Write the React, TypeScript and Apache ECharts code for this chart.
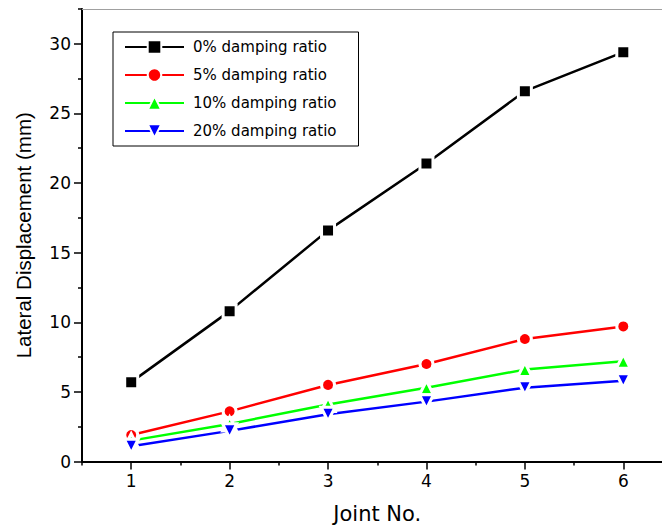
import React, { useEffect, useRef } from "react";
import * as echarts from "echarts";

const joints = [1, 2, 3, 4, 5, 6];
const damping0 = [5.7, 10.8, 16.6, 21.4, 26.6, 29.4];
const damping5 = [1.9, 3.6, 5.5, 7.0, 8.8, 9.7];
const damping10 = [1.5, 2.7, 4.1, 5.3, 6.6, 7.2];
const damping20 = [1.1, 2.2, 3.4, 4.3, 5.3, 5.8];

const seriesNames = ["0% damping ratio", "5% damping ratio", "10% damping ratio", "20% damping ratio"];

const xTicks = [1, 2, 3, 4, 5, 6];
const xMinorTicks = [0.5, 1.5, 2.5, 3.5, 4.5, 5.5, 6.5];
const yTicks = [0, 5, 10, 15, 20, 25, 30];
const yMinorTicks = [2.5, 7.5, 12.5, 17.5, 22.5, 27.5, 32.5];

const X_MIN = 0.5;
const X_MAX = 6.5;
const Y_MIN = 0;
const Y_MAX = 32.5;

const tickFont = "DejaVu Sans";

export default function App() {
  const ref = useRef<HTMLDivElement>(null);

  useEffect(() => {
    if (!ref.current) return;
    const chart = echarts.init(ref.current, null, { renderer: "svg" });

    const mk = (vals: number[]) => joints.map((j, i) => [j, vals[i]]);
    const base = (name: string, vals: number[], color: string, symbol: string, size: number, rotate = 0) => ({
      name,
      type: "line",
      data: mk(vals),
      xAxisIndex: 0,
      yAxisIndex: 0,
      symbol,
      symbolSize: size,
      symbolRotate: rotate,
      showAllSymbol: true,
      lineStyle: { color, width: 2.5 },
      itemStyle: { color, borderColor: "#ffffff", borderWidth: 3 },
      z: 3,
    });

    const option: any = {
      animation: false,
      backgroundColor: "#ffffff",
      grid: { left: 82, top: 9, width: 590.5, height: 452.5, containLabel: false, outerBoundsMode: "none" },
      legend: {
        left: 113,
        top: 32,
        orient: "vertical",
        padding: [6, 22, 6, 11],
        itemWidth: 59,
        itemHeight: 17,
        itemGap: 10,
        borderColor: "#000",
        borderWidth: 1,
        borderRadius: 0,
        backgroundColor: "#ffffff",
        textStyle: {
          fontFamily: tickFont,
          fontSize: 15,
          color: "#000",
          lineHeight: 18,
          padding: [0, 0, 0, 4],
        },
        data: seriesNames,
      },
      xAxis: [
        {
          type: "value",
          min: X_MIN,
          max: X_MAX,
          position: "bottom",
          name: "Joint No.",
          nameLocation: "middle",
          nameGap: 42,
          nameTextStyle: { fontFamily: tickFont, fontSize: 21, color: "#000" },
          axisLine: { show: true, lineStyle: { color: "#000", width: 2 } },
          axisTick: { show: true, length: 8, lineStyle: { color: "#000", width: 1.5 }, customValues: xTicks },
          axisLabel: { show: true, margin: 11, fontFamily: tickFont, fontSize: 17, color: "#000", customValues: xTicks },
          splitLine: { show: false },
        },
        {
          type: "value",
          min: X_MIN,
          max: X_MAX,
          position: "bottom",
          axisLine: { show: false },
          axisTick: { show: true, length: 4, lineStyle: { color: "#000", width: 1.5 }, customValues: xMinorTicks },
          axisLabel: { show: false },
          splitLine: { show: false },
        },
        {
          type: "value",
          min: X_MIN,
          max: X_MAX,
          position: "top",
          axisLine: { show: true, lineStyle: { color: "#a0a0a0", width: 1 } },
          axisTick: { show: false },
          axisLabel: { show: false },
          splitLine: { show: false },
        },
      ],
      yAxis: [
        {
          type: "value",
          min: Y_MIN,
          max: Y_MAX,
          position: "left",
          name: "Lateral Displacement (mm)",
          nameLocation: "middle",
          nameGap: 48,
          nameRotate: 90,
          nameTextStyle: { fontFamily: "Liberation Sans", fontSize: 20.5, color: "#000" },
          axisLine: { show: true, lineStyle: { color: "#000", width: 2 } },
          axisTick: { show: true, length: 8, lineStyle: { color: "#000", width: 1.5 }, customValues: yTicks },
          axisLabel: { show: true, margin: 11, fontFamily: tickFont, fontSize: 17, color: "#000", customValues: yTicks },
          splitLine: { show: false },
        },
        {
          type: "value",
          min: Y_MIN,
          max: Y_MAX,
          position: "left",
          offset: 0,
          axisLine: { show: false },
          axisTick: { show: true, length: 4, lineStyle: { color: "#000", width: 1.5 }, customValues: yMinorTicks },
          axisLabel: { show: false },
          splitLine: { show: false },
        },
      ],
      series: [
        base(seriesNames[0], damping0, "#000000", "rect", 13),
        base(seriesNames[1], damping5, "#ff0000", "circle", 13),
        base(seriesNames[2], damping10, "#00ff00", "triangle", 14),
        base(seriesNames[3], damping20, "#0000ff", "triangle", 14, 180),
      ],
    };

    chart.setOption(option);
    return () => chart.dispose();
  }, []);

  return (
    <div
      ref={ref}
      style={{ position: "fixed", left: 0, top: 0, width: 662, height: 529, background: "#fff", overflow: "hidden" }}
    />
  );
}
